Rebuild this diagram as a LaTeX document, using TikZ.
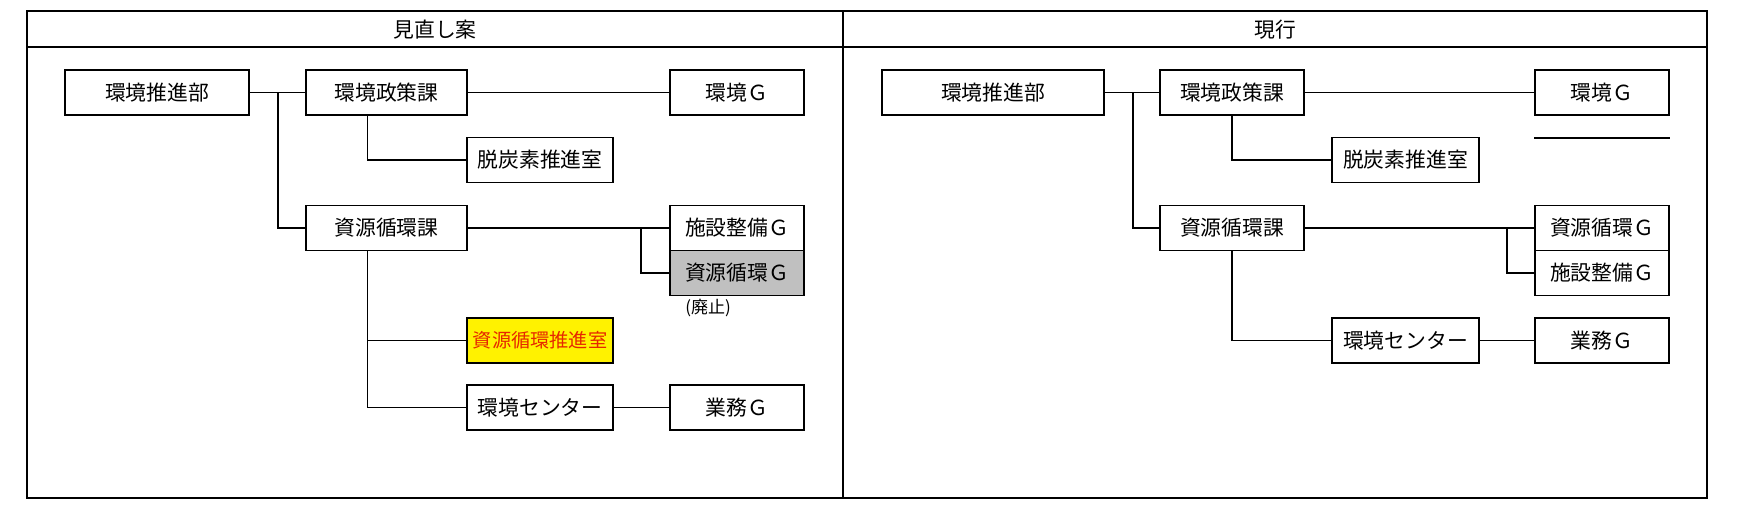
\documentclass[tikz,border=0pt]{standalone}
\usepackage{fontspec}
\setmainfont{Noto Sans CJK JP}
\definecolor{promred}{RGB}{230,40,0}
\definecolor{abolgray}{RGB}{192,192,192}

\begin{document}
\begin{tikzpicture}[x=0.5pt,y=-0.5pt,line width=0.9pt,
  org/.style={draw,line width=0.9pt,minimum height=22.5pt,inner sep=0pt,
    font=\fontsize{10.4}{12}\selectfont},
  title/.style={font=\fontsize{10.4}{12}\selectfont}]
  \useasboundingbox (0,0) rectangle (1751,529);
  \draw[line width=1pt] (26.5,11) rectangle (1707,497.5);
  \draw[line width=1pt] (843,11) -- (843,497.5);
  \draw[line width=1pt] (26.5,47.5) -- (1707,47.5);
  \node[title] (ttl) at (435,29.5) {見直し案};
  \node[title] (ttr) at (1275,29.5) {現行};

  % 見直し案
  \node[org,minimum width=92pt] (lhq) at (157,92.5) {環境推進部};
  \node[org,minimum width=80.5pt] (lpol) at (386.5,92.5) {環境政策課};
  \node[org,minimum width=67pt] (lenv) at (737,92.5) {環境Ｇ};
  \node[org,minimum width=73pt] (ldc) at (540,160) {脱炭素推進室};
  \node[org,minimum width=80.5pt] (lres) at (386.5,228) {資源循環課};
  \node[org,minimum width=67pt] (lfac) at (737,228) {施設整備Ｇ};
  \node[org,fill=abolgray,minimum width=67pt] (lrg) at (737,273) {資源循環Ｇ};
  \node[font=\fontsize{8.5}{10}\selectfont] (labol) at (708,308) {(廃止)};
  \node[org,fill=yellow,text=promred,minimum width=73pt,
    font=\fontsize{9.6}{11}\selectfont] (lprom) at (540,340.5) {資源循環推進室};
  \node[org,minimum width=73pt] (lcen) at (540,407.5) {環境センター};
  \node[org,minimum width=67pt] (lwork) at (737,407.5) {業務Ｇ};
  \coordinate (ltr) at (278,92.5);
  \coordinate (lpb) at (367.5,115);
  \coordinate (lrb) at (367.5,250.5);
  \coordinate (lgb) at (641,228);
  \draw (lhq.east) -- (lpol.west);
  \draw (ltr) |- (lres.west);
  \draw (lpol.east) -- (lenv.west);
  \draw (lpb) |- (ldc.west);
  \draw (lres.east) -- (lfac.west);
  \draw (lgb) |- (lrg.west);
  \draw (lrb) |- (lcen.west);
  \draw (lrb |- lprom.west) -- (lprom.west);
  \draw (lcen.east) -- (lwork.west);

  % 現行
  \node[org,minimum width=111pt] (rhq) at (993,92.5) {環境推進部};
  \node[org,minimum width=72pt] (rpol) at (1232,92.5) {環境政策課};
  \node[org,minimum width=67pt] (renv) at (1602,92.5) {環境Ｇ};
  \node[org,minimum width=73.5pt] (rdc) at (1405.5,160) {脱炭素推進室};
  \node[org,minimum width=72pt] (rres) at (1232,228) {資源循環課};
  \node[org,minimum width=67pt] (rrg) at (1602,228) {資源循環Ｇ};
  \node[org,minimum width=67pt] (rfac) at (1602,273) {施設整備Ｇ};
  \node[org,minimum width=73.5pt] (rcen) at (1405.5,340.5) {環境センター};
  \node[org,minimum width=67pt] (rwork) at (1602,340.5) {業務Ｇ};
  \coordinate (rtr) at (1133,92.5);
  \coordinate (rgb) at (1507,228);
  \draw (rhq.east) -- (rpol.west);
  \draw (rtr) |- (rres.west);
  \draw (rpol.east) -- (renv.west);
  \draw (rpol.south) |- (rdc.west);
  \draw (rres.east) -- (rrg.west);
  \draw (rgb) |- (rfac.west);
  \draw (rres.south) |- (rcen.west);
  \draw (rcen.east) -- (rwork.west);
  \draw ([yshift=-11.25pt]renv.south west) -- ([yshift=-11.25pt]renv.south east);
\end{tikzpicture}
\end{document}
